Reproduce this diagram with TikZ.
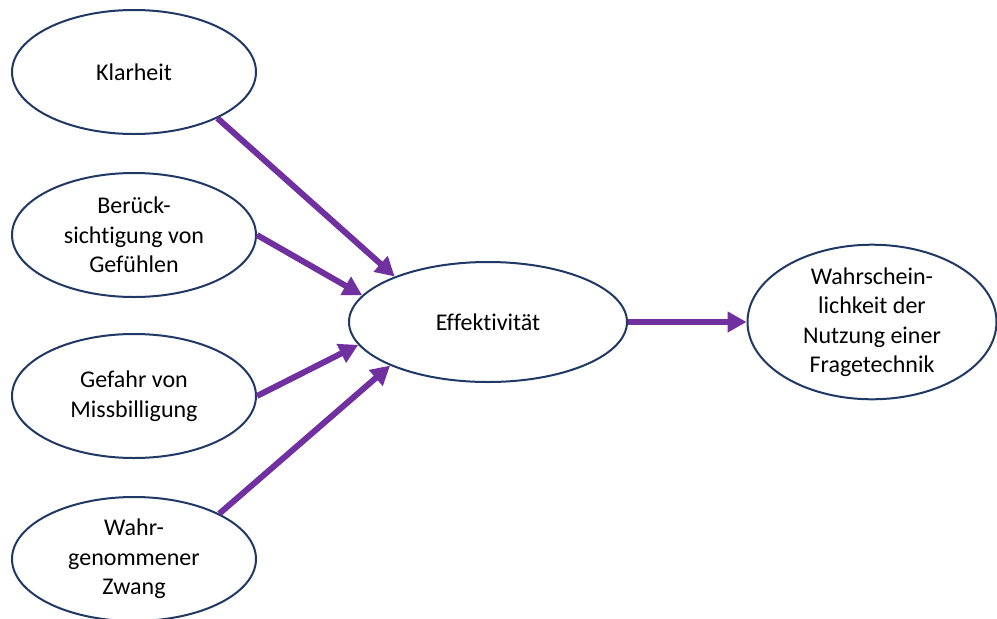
\documentclass[tikz,border=0pt]{standalone}
\usepackage{fontspec}
\setmainfont[Ligatures=NoCommon]{Carlito}
\usepackage{xcolor}
\definecolor{morado}{RGB}{112, 48, 160}
\definecolor{azulOscuro}{RGB}{31, 56, 100}
\usepackage{tikz}
\usetikzlibrary{arrows.meta,shapes.geometric,positioning}
\tikzstyle{factor}=[ellipse, draw=azulOscuro, line width=2pt,
                    fill=white, inner sep=0pt, align=center,
                    font=\fontsize{24}{29.5}\selectfont,
                    minimum width=244pt, minimum height=124pt]
\tikzstyle{link}  =[draw=morado, line width=6pt,
                    -{Triangle[length=19pt,width=20pt]}]

\begin{document}
\begin{tikzpicture}[x=1pt,y=-1pt]
    \useasboundingbox (0,0) rectangle (997,619);

    \node (klar)  [factor] at (134,72)  {Klarheit};
    \node (ber)   [factor] at (134,235) {Berück-\\sichtigung von\\Gefühlen};
    \node (gef)   [factor] at (134,396) {Gefahr von\\Missbilligung};
    \node (zwang) [factor] at (134,559) {Wahr-\\genommener\\Zwang};

    \node (eff)   [factor,minimum width=278pt,minimum height=120pt]
        at (488,322) {Effektivität};
    \node (nutz)  [factor,minimum width=249pt,minimum height=120pt]
        at (872,322) {Wahrschein-\\lichkeit der\\Nutzung einer\\Fragetechnik};

    \foreach \i/\a/\b in {klar/-29/154,ber/0/168,gef/0/-170,zwang/28/-156}
        \draw [link] (\i.\a) -- (eff.\b);
    \draw [link] (eff.east) -- (nutz.west);

\end{tikzpicture}
\end{document}
